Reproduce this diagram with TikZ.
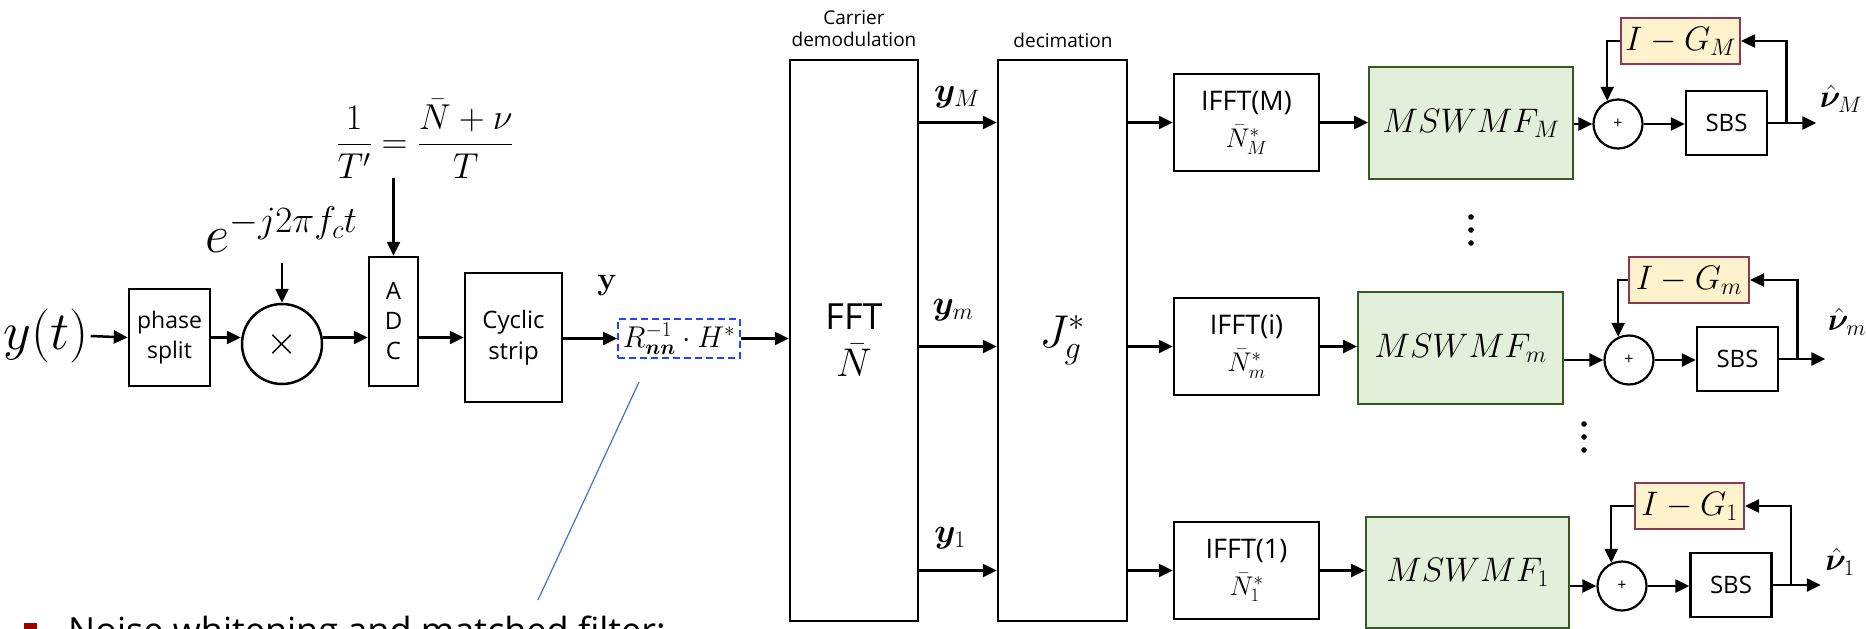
\RequirePackage{fix-cm}
\documentclass[tikz,border=0pt]{standalone}
\usepackage{amsmath,bm}
\usepackage[no-math]{fontspec}
\setmainfont{Open Sans}
\usetikzlibrary{arrows.meta,calc}
\definecolor{gfill}{RGB}{226,239,218}
\definecolor{gdraw}{RGB}{56,87,35}
\definecolor{yfill}{RGB}{255,242,204}
\definecolor{ydraw}{RGB}{140,58,80}
\definecolor{dblue}{RGB}{30,70,255}
\definecolor{lblue}{RGB}{68,114,196}
\definecolor{bred}{RGB}{160,0,0}
\newcommand{\fs}[2]{\fontsize{#1}{#2}\selectfont}
\begin{document}
\begin{tikzpicture}[x=1pt,y=-1pt,
  box/.style={draw, line width=2.5pt, inner sep=0pt, align=center, font=\fs{23}{30}},
  arr/.style={line width=2.5pt, -{Triangle[length=14pt,width=13pt]}},
  sumnode/.style={circle, draw, line width=2.2pt, inner sep=0pt, minimum size=49pt, font=\fs{16}{18}},
  msw/.style={draw=gdraw, fill=gfill, line width=2pt, inner sep=0pt, font=\fs{34}{38}},
  ig/.style={draw=ydraw, fill=yfill, line width=2pt, inner sep=0pt, minimum height=46pt, font=\fs{34}{38}},
  sbs/.style={box, minimum width=81pt, minimum height=64pt, font=\fs{24}{28}},
  ifft/.style={box, minimum width=145pt, minimum height=97pt, font=\fs{27}{37}},
  vlab/.style={font=\fs{32}{36}, inner sep=0pt},
  ylb/.style={font=\fs{34}{38}, inner sep=0pt},
  dotc/.style={fill=black},
]
\useasboundingbox (0,0) rectangle (1866,629);

% left chain
\node[font=\fs{54}{60}, inner sep=2pt] (yt) at (46,336) {$y(t)$};
\node[box, minimum width=81pt, minimum height=97pt] (ps) at (169.5,337.5) {phase\\split};
\node[circle, draw, line width=2.5pt, minimum size=80pt, inner sep=0pt, font=\fs{40}{40}] (mult) at (282,344) {$\times$};
\node[font=\fs{53}{60}, inner sep=0pt, outer ysep=11pt, anchor=base] (elab) at (281.5,252) {$e^{-j2\pi f_c t}$};
\node[box, minimum width=49pt, minimum height=129pt, font=\fs{24}{30}] (adc) at (393.5,321.5) {A\\D\\C};
\node[font=\fs{36}{42}, inner sep=0pt] (frac) at (425,139) {$\dfrac{1}{T'}=\dfrac{\bar{N}+\nu}{T}$};
\node[box, minimum width=97pt, minimum height=129pt, font=\fs{24}{31}] (cs) at (513.5,337.5) {Cyclic\\strip};
\node[draw=dblue, dash pattern=on 7pt off 4pt, line width=2pt, minimum width=122pt, minimum height=39pt, inner sep=0pt, font=\fs{30}{32}] (mf) at (679,338.5) {$R_{\bm{nn}}^{-1}\cdot H^{*}$};
\node[font=\fs{32}{34}, inner sep=0pt] (ylab) at (607,285) {$\mathbf{y}$};

\draw[arr] (yt.east) -- (ps.west);
\draw[arr] (ps.east) -- (ps.east -| mult.west);
\draw[arr] (elab.south -| mult.north) -- (mult.north);
\draw[arr] (mult.east |- ps.east) -- (adc.west |- ps.east);
\draw[arr] (frac.south -| adc.north) -- (adc.north);
\draw[arr] (adc.east |- ps.east) -- (cs.west |- ps.east);
\draw[arr] (cs.east |- mf.west) -- (mf.west);

% FFT and decimation
\node[box, minimum width=128pt, minimum height=561pt, font=\fs{36}{47}] (fft) at (854,340.5) {FFT\\{\fs{40}{47}$\bar{N}$}};
\node[box, minimum width=129pt, minimum height=561pt, font=\fs{46}{50}] (jg) at (1062.5,340.5) {$J_g^{*}$};
\node[font=\fs{19}{22}, align=center, inner sep=0pt] (cdl) at (854,29) {Carrier\\demodulation};
\node[font=\fs{19}{22}, inner sep=0pt] (dcl) at (1063,40) {decimation};
\draw[arr] (mf.east) -- (fft.west |- mf.east);

% callout
\coordinate (ca) at (639,382);
\coordinate (cb) at (538,600);
\draw[lblue, line width=1.2pt] (ca) -- (cb);
\node[fill=bred, minimum size=13pt, inner sep=0pt] (bul) at (30.5,629.5) {};
\node[anchor=base west, inner sep=0pt, font=\fs{36}{40}] (note) at (68,643) {Noise whitening and matched filter:};

% ---- row M ----
\node[ifft] (ifM) at (1246.5,122.5) {IFFT(M)\\$\bar{N}_M^{*}$};
\node[msw, minimum width=204pt, minimum height=112pt] (mwM) at (1471,123) {$MSWMF_M$};
\node[sumnode] (sM) at (1618,124) {+};
\node[sbs] (sbM) at (1726.5,123) {SBS};
\node[ig, minimum width=119pt] (igM) at (1680.5,41) {$I-G_M$};
\node[vlab] (vM) at (1841,99) {$\hat{\bm{\nu}}_M$};
\draw[arr] (fft.east |- ifM.west) -- (jg.west |- ifM.west);
\draw[arr] (jg.east |- ifM.west) -- (ifM.west);
\draw[arr] (ifM.east) -- (mwM.west |- ifM.east);
\draw[arr] (mwM.east |- sM.west) -- (sM.west);
\draw[arr] (sM.east) -- (sbM.west |- sM.east);
\path (sbM.east) ++(48,0) coordinate (oM);
\path (sbM.east) ++(18,0) coordinate (fM);
\draw[arr] (sbM.east) -- (oM);
\draw[arr] (fM) |- (igM.east);
\draw[arr] (igM.west) -| (sM.115);
\node[ylb] (lyM) at (957,97) {$\bm{y}_M$};

% ---- row m ----
\node[ifft] (ifm) at (1246.5,346.5) {IFFT(i)\\$\bar{N}_m^{*}$};
\node[msw, minimum width=205pt, minimum height=112pt] (mwm) at (1460.5,348) {$MSWMF_m$};
\node[sumnode] (sm) at (1629,360) {+};
\node[sbs] (sbm) at (1737.5,359) {SBS};
\node[ig, minimum width=120pt] (igm) at (1689,280) {$I-G_m$};
\node[vlab] (vm) at (1847,322) {$\hat{\bm{\nu}}_m$};
\draw[arr] (fft.east |- ifm.west) -- (jg.west |- ifm.west);
\draw[arr] (jg.east |- ifm.west) -- (ifm.west);
\draw[arr] (ifm.east) -- (mwm.west |- ifm.east);
\draw[arr] (mwm.east |- sm.west) -- (sm.west);
\draw[arr] (sm.east) -- (sbm.west |- sm.east);
\path (sbm.east) ++(46,0) coordinate (om);
\path (sbm.east) ++(18,0) coordinate (fm);
\draw[arr] (sbm.east) -- (om);
\draw[arr] (fm) |- (igm.east);
\draw[arr] (igm.west) -| (sm.115);
\node[ylb] (lym) at (953,310) {$\bm{y}_m$};

% ---- row 1 ----
\node[ifft] (if1) at (1246.5,570.5) {IFFT(1)\\$\bar{N}_1^{*}$};
\node[msw, minimum width=203pt, minimum height=111pt] (mw1) at (1467.5,572.5) {$MSWMF_1$};
\node[sumnode] (s1) at (1622,586) {+};
\node[sbs] (sb1) at (1731,585) {SBS};
\node[ig, minimum width=109pt] (ig1) at (1689.5,506) {$I-G_1$};
\node[vlab] (v1) at (1840,562) {$\hat{\bm{\nu}}_1$};
\draw[arr] (fft.east |- if1.west) -- (jg.west |- if1.west);
\draw[arr] (jg.east |- if1.west) -- (if1.west);
\draw[arr] (if1.east) -- (mw1.west |- if1.east);
\draw[arr] (mw1.east |- s1.west) -- (s1.west);
\draw[arr] (s1.east) -- (sb1.west |- s1.east);
\path (sb1.east) ++(48,0) coordinate (o1);
\path (sb1.east) ++(18,0) coordinate (f1);
\draw[arr] (sb1.east) -- (o1);
\draw[arr] (f1) |- (ig1.east);
\draw[arr] (ig1.west) -| (s1.115);
\node[ylb] (ly1) at (950,538) {$\bm{y}_1$};

% dots
\fill[dotc] (1471,217) circle[radius=2.8pt] (1471,230) circle[radius=2.8pt] (1471,243) circle[radius=2.8pt];
\fill[dotc] (1584,424) circle[radius=2.8pt] (1584,437) circle[radius=2.8pt] (1584,450) circle[radius=2.8pt];
\end{tikzpicture}
\end{document}
